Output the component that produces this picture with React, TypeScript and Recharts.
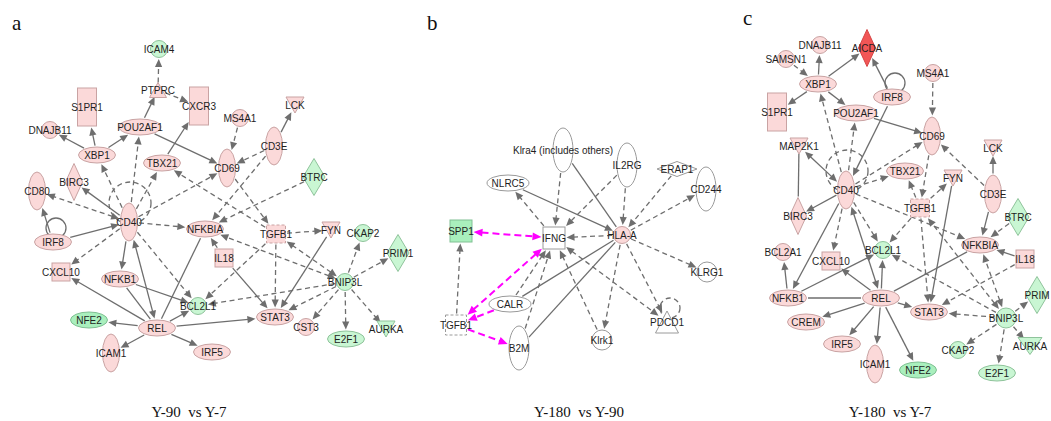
import React from "react";
import { ScatterChart, Scatter, XAxis, YAxis, ReferenceLine } from "recharts";

const W = 1051;
const H = 421;

type Reg = "up" | "strong" | "down" | "downDeep" | "none";
// [gene, x, y, glyph, regulation]
type NodeRow = [string, number, number, string, Reg];
// [from, to, style]  s = direct, d = indirect, m = highlighted; ">" arrow at target, "<>" both ends
type EdgeRow = [string, string, string];

// a: Y-90 vs Y-7
const nodesA: NodeRow[] = [
  ["ICAM4", 159, 49, "circle", "down"],
  ["PTPRC", 158, 90, "triUp", "up"],
  ["S1PR1", 87, 107, "tallRect", "up"],
  ["CXCR3", 199, 106, "tallRect", "up"],
  ["DNAJB11", 50, 130, "circle", "up"],
  ["POU2AF1", 140, 127, "ellipseW", "up"],
  ["MS4A1", 240, 118, "circle", "up"],
  ["LCK", 295, 105, "triDown", "up"],
  ["XBP1", 97, 155, "ellipse", "up"],
  ["TBX21", 162, 163, "ellipse", "up"],
  ["CD3E", 274, 146, "tall", "up"],
  ["CD69", 227, 168, "tall", "up"],
  ["BIRC3", 74, 182, "diamond", "up"],
  ["CD80", 37, 191, "tall", "up"],
  ["BTRC", 314, 177, "diamondW", "down"],
  ["CD40", 129, 222, "tall", "up"],
  ["IRF8", 53, 242, "ellipse", "up"],
  ["NFKBIA", 205, 229, "ellipse", "up"],
  ["TGFB1", 276, 234, "growth", "up"],
  ["FYN", 331, 230, "triDown", "up"],
  ["CKAP2", 363, 233, "circle", "down"],
  ["PRIM1", 398, 253, "diamondW", "down"],
  ["IL18", 224, 258, "square", "up"],
  ["CXCL10", 61, 272, "square", "up"],
  ["NFKB1", 120, 279, "ellipse", "up"],
  ["BNIP3L", 345, 282, "circle", "down"],
  ["BCL2L1", 198, 306, "circle", "down"],
  ["STAT3", 275, 317, "ellipse", "up"],
  ["NFE2", 89, 320, "ellipse", "downDeep"],
  ["REL", 157, 328, "ellipse", "up"],
  ["CST3", 306, 327, "circle", "up"],
  ["E2F1", 346, 339, "ellipse", "down"],
  ["AURKA", 386, 329, "triDown", "down"],
  ["IRF5", 212, 352, "ellipse", "up"],
  ["ICAM1", 111, 353, "tall", "up"],
];

const edgesA: EdgeRow[] = [
  ["PTPRC", "ICAM4", "d>"],
  ["PTPRC", "CXCR3", "d>"],
  ["POU2AF1", "PTPRC", "s>"],
  ["XBP1", "S1PR1", "s>"],
  ["XBP1", "DNAJB11", "s>"],
  ["XBP1", "POU2AF1", "s>"],
  ["TBX21", "CXCR3", "s>"],
  ["POU2AF1", "CD69", "s>"],
  ["MS4A1", "CD69", "d>"],
  ["CD3E", "CD69", "d>"],
  ["CD3E", "LCK", "s>"],
  ["CD3E", "NFKBIA", "d>"],
  ["BTRC", "NFKBIA", "d>"],
  ["CD69", "TGFB1", "d>"],
  ["TGFB1", "TBX21", "d>"],
  ["CD40", "POU2AF1", "d>"],
  ["CD40", "XBP1", "d>"],
  ["CD40", "TBX21", "d>"],
  ["CD40", "CD69", "d>"],
  ["CD40", "BIRC3", "s>"],
  ["CD40", "CD80", "d<>"],
  ["IRF8", "CD80", "s>"],
  ["IRF8", "CD40", "s>"],
  ["CD40", "CXCL10", "d>"],
  ["CD40", "NFKBIA", "d>"],
  ["CD40", "NFKB1", "s>"],
  ["REL", "CD40", "s<>"],
  ["CD40", "BCL2L1", "d>"],
  ["TGFB1", "FYN", "d>"],
  ["TGFB1", "STAT3", "d>"],
  ["TGFB1", "BCL2L1", "d>"],
  ["FYN", "STAT3", "s>"],
  ["BNIP3L", "CKAP2", "d>"],
  ["BNIP3L", "PRIM1", "d>"],
  ["BNIP3L", "TGFB1", "d<>"],
  ["BNIP3L", "NFKBIA", "d<>"],
  ["BNIP3L", "BCL2L1", "d>"],
  ["BNIP3L", "STAT3", "d>"],
  ["BNIP3L", "CST3", "d>"],
  ["BNIP3L", "E2F1", "d>"],
  ["BNIP3L", "AURKA", "d>"],
  ["IL18", "NFKBIA", "s>"],
  ["IL18", "STAT3", "s>"],
  ["REL", "NFKBIA", "s"],
  ["REL", "STAT3", "s>"],
  ["REL", "IRF5", "s>"],
  ["REL", "ICAM1", "s>"],
  ["REL", "NFE2", "s>"],
  ["REL", "CXCL10", "s>"],
  ["REL", "BCL2L1", "s>"],
  ["NFKB1", "BCL2L1", "s>"],
  ["NFKB1", "REL", "s"],
];

// b: Y-180 vs Y-90
const nodesB: NodeRow[] = [
  ["Klra4 (includes others)", 563, 150, "tallL", "none"],
  ["IL2RG", 627, 165, "tallL", "none"],
  ["ERAP1", 677, 169, "diamondFlat", "none"],
  ["CD244", 706, 189, "tallL", "none"],
  ["NLRC5", 508, 183, "ellipseW", "none"],
  ["SPP1", 461, 231, "squareL", "downDeep"],
  ["IFNG", 554, 238, "squareL", "none"],
  ["HLA-A", 622, 235, "circle", "up"],
  ["KLRG1", 707, 272, "circleL", "none"],
  ["CALR", 510, 304, "ellipseW", "none"],
  ["TGFB1", 456, 325, "growthL", "none"],
  ["B2M", 519, 348, "tallL", "none"],
  ["Klrk1", 602, 340, "circleL", "none"],
  ["PDCD1", 667, 322, "triUpL", "none"],
];

const edgesB: EdgeRow[] = [
  ["Klra4 (includes others)", "IFNG", "d>"],
  ["Klra4 (includes others)", "HLA-A", "s"],
  ["IL2RG", "IFNG", "d>"],
  ["IL2RG", "HLA-A", "d>"],
  ["ERAP1", "HLA-A", "d>"],
  ["HLA-A", "CD244", "d>"],
  ["NLRC5", "HLA-A", "s>"],
  ["IFNG", "NLRC5", "d>"],
  ["HLA-A", "IFNG", "d>"],
  ["HLA-A", "KLRG1", "d>"],
  ["HLA-A", "Klrk1", "d>"],
  ["HLA-A", "PDCD1", "d>"],
  ["IFNG", "PDCD1", "d<>"],
  ["HLA-A", "CALR", "s"],
  ["HLA-A", "B2M", "s"],
  ["Klrk1", "IFNG", "d>"],
  ["CALR", "IFNG", "d>"],
  ["B2M", "IFNG", "d>"],
  ["TGFB1", "SPP1", "d>"],
  ["SPP1", "IFNG", "m<>"],
  ["IFNG", "TGFB1", "m<>"],
  ["CALR", "TGFB1", "m>"],
  ["TGFB1", "B2M", "m>"],
];

// c: Y-180 vs Y-7
const nodesC: NodeRow[] = [
  ["DNAJB11", 820, 45, "circle", "up"],
  ["AICDA", 867, 48, "diamond", "strong"],
  ["SAMSN1", 786, 59, "circle", "up"],
  ["MS4A1", 933, 73, "circle", "up"],
  ["XBP1", 818, 84, "ellipse", "up"],
  ["IRF8", 892, 97, "ellipse", "up"],
  ["S1PR1", 777, 112, "tallRect", "up"],
  ["POU2AF1", 856, 113, "ellipseW", "up"],
  ["CD69", 932, 136, "tall", "up"],
  ["MAP2K1", 799, 146, "triDown", "up"],
  ["LCK", 993, 148, "triDown", "up"],
  ["TBX21", 905, 171, "ellipse", "up"],
  ["FYN", 953, 178, "triDown", "up"],
  ["CD40", 846, 190, "tall", "up"],
  ["CD3E", 993, 194, "tall", "up"],
  ["TGFB1", 920, 208, "growth", "up"],
  ["BIRC3", 798, 216, "diamond", "up"],
  ["BTRC", 1018, 217, "diamondW", "down"],
  ["NFKBIA", 980, 245, "ellipse", "up"],
  ["BCL2A1", 783, 252, "circle", "up"],
  ["BCL2L1", 883, 250, "circle", "down"],
  ["CXCL10", 831, 261, "square", "up"],
  ["IL18", 1025, 259, "square", "up"],
  ["PRIM", 1037, 295, "diamondW", "down"],
  ["NFKB1", 788, 298, "ellipse", "up"],
  ["REL", 881, 298, "ellipse", "up"],
  ["STAT3", 929, 312, "ellipse", "up"],
  ["BNIP3L", 1006, 318, "circleL", "down"],
  ["CREM", 806, 322, "ellipse", "up"],
  ["IRF5", 842, 344, "ellipse", "up"],
  ["AURKA", 1030, 346, "triDownW", "down"],
  ["CKAP2", 958, 350, "circle", "down"],
  ["ICAM1", 875, 364, "tall", "up"],
  ["NFE2", 918, 370, "ellipse", "downDeep"],
  ["E2F1", 997, 373, "ellipse", "down"],
];

const edgesC: EdgeRow[] = [
  ["SAMSN1", "XBP1", "d>"],
  ["XBP1", "DNAJB11", "s>"],
  ["XBP1", "AICDA", "s>"],
  ["XBP1", "S1PR1", "s>"],
  ["XBP1", "POU2AF1", "s>"],
  ["IRF8", "AICDA", "s>"],
  ["CD40", "XBP1", "d>"],
  ["CD40", "POU2AF1", "d>"],
  ["IRF8", "CD40", "s>"],
  ["POU2AF1", "CD69", "s>"],
  ["MS4A1", "CD69", "d>"],
  ["CD3E", "CD69", "d>"],
  ["CD3E", "LCK", "s>"],
  ["CD40", "CD69", "d>"],
  ["CD69", "TGFB1", "d>"],
  ["CD40", "TBX21", "d>"],
  ["TGFB1", "TBX21", "d>"],
  ["TGFB1", "FYN", "d>"],
  ["FYN", "STAT3", "s>"],
  ["MAP2K1", "BIRC3", "s"],
  ["CD40", "MAP2K1", "s<>"],
  ["CD40", "BIRC3", "s>"],
  ["CD40", "NFKB1", "s>"],
  ["CD40", "CXCL10", "d>"],
  ["REL", "CD40", "s<>"],
  ["CD40", "BCL2L1", "d>"],
  ["CD40", "NFKBIA", "d>"],
  ["NFKB1", "BCL2A1", "s>"],
  ["NFKB1", "BCL2L1", "s>"],
  ["NFKB1", "REL", "s"],
  ["REL", "CXCL10", "s>"],
  ["REL", "BCL2L1", "s>"],
  ["REL", "CREM", "s>"],
  ["REL", "IRF5", "s>"],
  ["REL", "ICAM1", "s>"],
  ["REL", "NFE2", "s>"],
  ["REL", "STAT3", "s>"],
  ["REL", "NFKBIA", "s"],
  ["TGFB1", "BCL2L1", "d>"],
  ["TGFB1", "STAT3", "d>"],
  ["CD3E", "NFKBIA", "s>"],
  ["BTRC", "NFKBIA", "d>"],
  ["IL18", "NFKBIA", "s>"],
  ["IL18", "STAT3", "d>"],
  ["BNIP3L", "TGFB1", "d<>"],
  ["BNIP3L", "NFKBIA", "d<>"],
  ["BNIP3L", "BCL2L1", "d>"],
  ["BNIP3L", "STAT3", "d>"],
  ["BNIP3L", "PRIM", "d>"],
  ["BNIP3L", "CKAP2", "d>"],
  ["BNIP3L", "E2F1", "d>"],
  ["BNIP3L", "AURKA", "d>"],
];

// self-regulating nodes: [panel, gene, indirect]
const selfLoops: [string, string, boolean][] = [
  ["a", "CD40", true],
  ["a", "IRF8", false],
  ["b", "PDCD1", true],
  ["c", "CD40", true],
  ["c", "IRF8", false],
];

const panelLetters = ["a", "b", "c"];
const captions = ["Y-90  vs Y-7", "Y-180  vs Y-90", "Y-180  vs Y-7"];

const panels = [
  { key: "a", nodes: nodesA, edges: edgesA },
  { key: "b", nodes: nodesB, edges: edgesB },
  { key: "c", nodes: nodesC, edges: edgesC },
];

type Glyph = { kind: "ellipse" | "rect" | "diamond" | "triDown" | "triUp"; w: number; h: number; dashed?: boolean };

const GLYPHS: Record<string, Glyph> = {
  circle: { kind: "ellipse", w: 17, h: 17 },
  circleL: { kind: "ellipse", w: 20, h: 20 },
  ellipse: { kind: "ellipse", w: 37, h: 16 },
  ellipseW: { kind: "ellipse", w: 42, h: 16 },
  tall: { kind: "ellipse", w: 17, h: 38 },
  tallL: { kind: "ellipse", w: 20, h: 44 },
  square: { kind: "rect", w: 18, h: 18 },
  squareL: { kind: "rect", w: 22, h: 22 },
  tallRect: { kind: "rect", w: 19, h: 38 },
  growth: { kind: "rect", w: 19, h: 18, dashed: true },
  growthL: { kind: "rect", w: 21, h: 20, dashed: true },
  diamond: { kind: "diamond", w: 17, h: 37 },
  diamondW: { kind: "diamond", w: 22, h: 37 },
  diamondFlat: { kind: "diamond", w: 40, h: 15 },
  triDown: { kind: "triDown", w: 18, h: 16 },
  triDownW: { kind: "triDown", w: 24, h: 17 },
  triUp: { kind: "triUp", w: 17, h: 15 },
  triUpL: { kind: "triUp", w: 23, h: 22 },
};

const REG: Record<Reg, { fill: string; stroke: string }> = {
  up: { fill: "#fbd9d9", stroke: "#c9a3a3" },
  strong: { fill: "#f25656", stroke: "#d64545" },
  down: { fill: "#c9f6d3", stroke: "#8fc39b" },
  downDeep: { fill: "#a9efbd", stroke: "#80c093" },
  none: { fill: "#ffffff", stroke: "#9a9a9a" },
};

const EDGE_GREY = "#6e6e6e";
const EDGE_PINK = "#ff00ff";

type NodeDatum = { key: string; id: string; x: number; y: number; shape: string; reg: Reg; loop?: boolean };

function reach(g: Glyph, ux: number, uy: number) {
  const a = g.w / 2;
  const b = g.h / 2;
  const ax = Math.abs(ux);
  const ay = Math.abs(uy);
  if (g.kind === "rect") return Math.min(ax > 1e-6 ? a / ax : 1e9, ay > 1e-6 ? b / ay : 1e9);
  if (g.kind === "diamond") return 1 / (ax / a + ay / b);
  const e = 1 / Math.sqrt((ax / a) ** 2 + (ay / b) ** 2);
  return g.kind === "ellipse" ? e : e * 0.8;
}

function EdgeMark(props: any) {
  const { x1, y1, x2, y2, edge } = props;
  if (![x1, y1, x2, y2].every((v) => typeof v === "number" && isFinite(v))) return null;
  const from: NodeDatum = edge.from;
  const to: NodeDatum = edge.to;
  const style: string = edge.style;
  const dx = x2 - x1;
  const dy = y2 - y1;
  const len = Math.hypot(dx, dy) || 1;
  const ux = dx / len;
  const uy = dy / len;
  const s0 = reach(GLYPHS[from.shape], ux, uy) + 1.5;
  const s1 = reach(GLYPHS[to.shape], ux, uy) + 1.5;
  const ax = x1 + ux * s0;
  const ay = y1 + uy * s0;
  const bx = x2 - ux * s1;
  const by = y2 - uy * s1;
  const pink = style[0] === "m";
  const dashed = style[0] !== "s";
  const color = pink ? EDGE_PINK : EDGE_GREY;
  const headEnd = style.includes(">");
  const headStart = style.includes("<");
  const L = pink ? 9 : 8;
  const hw = pink ? 4 : 3.6;
  const head = (tx: number, ty: number, vx: number, vy: number) => {
    const bxp = tx - vx * L;
    const byp = ty - vy * L;
    return `${tx},${ty} ${bxp - vy * hw},${byp + vx * hw} ${bxp + vy * hw},${byp - vx * hw}`;
  };
  const lx1 = headStart ? ax + ux * (L - 1) : ax;
  const ly1 = headStart ? ay + uy * (L - 1) : ay;
  const lx2 = headEnd ? bx - ux * (L - 1) : bx;
  const ly2 = headEnd ? by - uy * (L - 1) : by;
  return (
    <g>
      <line
        x1={lx1}
        y1={ly1}
        x2={lx2}
        y2={ly2}
        stroke={color}
        strokeWidth={pink ? 2 : 1.3}
        strokeDasharray={dashed ? (pink ? "7 4" : "5 3.5") : undefined}
      />
      {headEnd && <polygon points={head(bx, by, ux, uy)} fill={color} />}
      {headStart && <polygon points={head(ax, ay, -ux, -uy)} fill={color} />}
    </g>
  );
}

function NodeGlyph(props: any) {
  const { cx, cy, payload } = props;
  if (typeof cx !== "number" || typeof cy !== "number") return null;
  const n = payload as NodeDatum;
  const g = GLYPHS[n.shape];
  const c = REG[n.reg];
  const a = g.w / 2;
  const b = g.h / 2;
  const common = { fill: c.fill, stroke: c.stroke, strokeWidth: 1 };
  let body: React.ReactNode;
  if (g.kind === "ellipse") body = <ellipse cx={cx} cy={cy} rx={a} ry={b} {...common} />;
  else if (g.kind === "rect")
    body = (
      <rect
        x={cx - a}
        y={cy - b}
        width={g.w}
        height={g.h}
        {...common}
        strokeDasharray={g.dashed ? "3 2" : undefined}
      />
    );
  else if (g.kind === "diamond")
    body = <polygon points={`${cx},${cy - b} ${cx + a},${cy} ${cx},${cy + b} ${cx - a},${cy}`} {...common} />;
  else if (g.kind === "triDown")
    body = <polygon points={`${cx - a},${cy - b} ${cx + a},${cy - b} ${cx},${cy + b}`} {...common} />;
  else body = <polygon points={`${cx},${cy - b} ${cx + a},${cy + b} ${cx - a},${cy + b}`} {...common} />;

  // self-regulation loop sits above the node, drawn before the body so the node covers its foot
  let loop: React.ReactNode = null;
  if (n.loop !== undefined) {
    const big = g.h > 30;
    const r = big ? 21 : 10;
    const lcx = big ? cx + 1 : cx + 3;
    const lcy = big ? cy - 19 : cy - 14;
    loop = (
      <circle
        cx={lcx}
        cy={lcy}
        r={r}
        fill="none"
        stroke={EDGE_GREY}
        strokeWidth={1.3}
        strokeDasharray={n.loop ? "5 3.5" : undefined}
      />
    );
  }

  return (
    <g>
      {loop}
      {body}
      <text
        x={cx}
        y={cy}
        textAnchor="middle"
        dominantBaseline="central"
        fontFamily="'Liberation Sans', Arial, sans-serif"
        fontSize={10}
        fill="#1e1e1e"
      >
        {n.id}
      </text>
    </g>
  );
}

export default function App() {
  const loopMap = new Map(selfLoops.map(([p, id, ind]) => [p + ":" + id, ind]));
  const nodeData: NodeDatum[] = panels.flatMap((p) =>
    p.nodes.map(([id, x, y, shape, reg]) => ({
      key: p.key + ":" + id,
      id,
      x,
      y,
      shape,
      reg,
      loop: loopMap.get(p.key + ":" + id),
    }))
  );
  const byKey = new Map(nodeData.map((n) => [n.key, n]));
  const edgeData = panels.flatMap((p) =>
    p.edges
      .map(([f, t, style]) => ({ from: byKey.get(p.key + ":" + f), to: byKey.get(p.key + ":" + t), style }))
      .filter((e) => e.from && e.to)
  );

  const letterPos = [
    { x: 12, y: 30 },
    { x: 427, y: 30 },
    { x: 743, y: 25 },
  ];
  const captionX = [189, 579, 890];

  return (
    <div style={{ position: "absolute", left: 0, top: 0, width: W, height: H, background: "#fff" }}>
      <ScatterChart width={W} height={H} margin={{ top: 0, right: 0, bottom: 0, left: 0 }}>
        <XAxis type="number" dataKey="x" domain={[0, W]} hide />
        <YAxis type="number" dataKey="y" domain={[0, H]} reversed hide />
        {edgeData.map((e, i) => (
          <ReferenceLine
            key={"e" + i}
            segment={[
              { x: e.from!.x, y: e.from!.y },
              { x: e.to!.x, y: e.to!.y },
            ]}
            ifOverflow="visible"
            shape={(p: any) => <EdgeMark {...p} edge={e} />}
          />
        ))}
        <Scatter data={nodeData} isAnimationActive={false} shape={(p: any) => <NodeGlyph {...p} />} />
      </ScatterChart>
      <svg
        width={W}
        height={H}
        style={{ position: "absolute", left: 0, top: 0, pointerEvents: "none" }}
      >
        {panelLetters.map((t, i) => (
          <text
            key={t}
            x={letterPos[i].x}
            y={letterPos[i].y}
            fontFamily="'Liberation Serif', 'Times New Roman', serif"
            fontSize={21}
            fill="#111"
          >
            {t}
          </text>
        ))}
        {captions.map((t, i) => (
          <text
            key={t}
            x={captionX[i]}
            y={417}
            textAnchor="middle"
            fontFamily="'Liberation Serif', 'Times New Roman', serif"
            fontSize={15}
            fill="#111"
            style={{ whiteSpace: "pre" }}
          >
            {t}
          </text>
        ))}
      </svg>
    </div>
  );
}
